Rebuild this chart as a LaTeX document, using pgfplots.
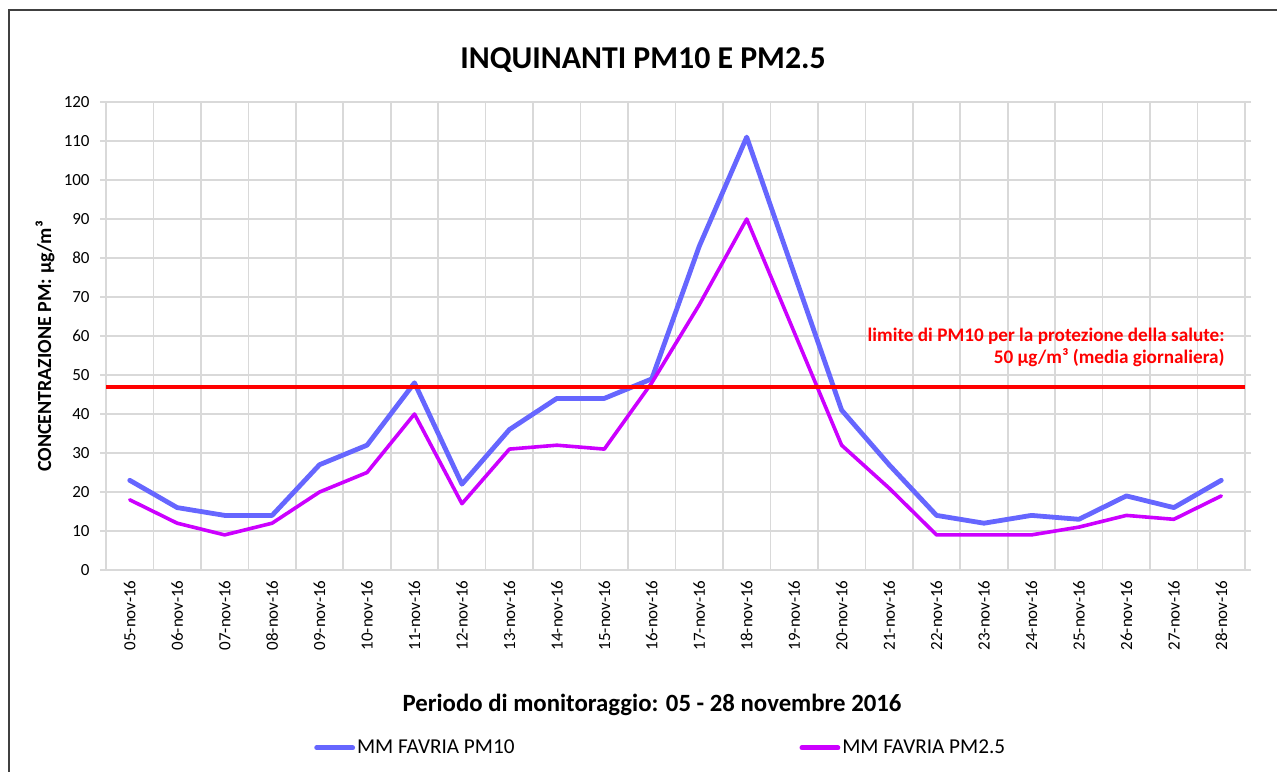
\documentclass[border=0pt]{standalone}
\usepackage{pgfplots}
\pgfplotsset{compat=1.18}
\usepackage{fontspec}
\setmainfont{Carlito}
\definecolor{gridgray}{HTML}{D9D9D9}
\definecolor{pmten}{HTML}{6666FF}
\definecolor{pmtwo}{HTML}{CC00FF}
\definecolor{framegray}{HTML}{404040}
\begin{document}
\begin{tikzpicture}
\useasboundingbox (0,0) rectangle (638.5pt,385.5pt);
\fill[white] (0,0) rectangle (638.5pt,385.5pt);
\draw[line width=1pt, framegray] (4.5pt,-20pt) |- (700pt,380.5pt);
\begin{axis}[
  at={(53pt,100.5pt)}, anchor=south west,
  width=569.5pt, height=234pt, scale only axis,
  xmin=-0.5, xmax=23.5, ymin=0, ymax=120,
  xtick={0,...,23},
  xticklabels={05-nov-16,06-nov-16,07-nov-16,08-nov-16,09-nov-16,10-nov-16,11-nov-16,12-nov-16,13-nov-16,14-nov-16,15-nov-16,16-nov-16,17-nov-16,18-nov-16,19-nov-16,20-nov-16,21-nov-16,22-nov-16,23-nov-16,24-nov-16,25-nov-16,26-nov-16,27-nov-16,28-nov-16},
  minor xtick={-0.5,0.5,...,23.5},
  ytick={0,10,...,120},
  xmajorgrids=false, xminorgrids=true, ymajorgrids=true,
  grid style={gridgray, line width=0.8pt},
  minor grid style={gridgray, line width=0.8pt},
  axis line style={gridgray, line width=0.8pt},
  tick style={gridgray, line width=0.8pt},
  tick align=outside,
  xtick style={draw=none},
  minor tick length=3pt,
  ytick style={gridgray},
  major tick length=3pt,
  x tick label style={rotate=90, anchor=east, inner sep=0pt, font=\fontsize{8.5}{10}\selectfont},
  xticklabel shift=2pt,
  y tick label style={inner sep=0pt, font=\fontsize{8.5}{10}\selectfont},
  yticklabel shift=5pt,
  /pgf/number format/assume math mode=true,
  legend columns=2,
  legend style={at={(rel axis cs:0.1825,-0.38)}, anchor=west, draw=none, fill=none,
    inner sep=0pt, font=\fontsize{10.6}{12}\selectfont,
    nodes={inner sep=1pt},
    /tikz/every even column/.append style={column sep=141.5pt}},
  legend cell align=left,
  legend image code/.code={\draw[#1, line width=2.4pt] (0pt,0pt) -- (18pt,0pt);},
  clip=false,
]
\addplot[pmten, line width=2.4pt, line join=round, line cap=round] coordinates {
(0,23) (1,16) (2,14) (3,14) (4,27) (5,32) (6,48) (7,22) (8,36) (9,44) (10,44) (11,49)
(12,83) (13,111) (14,76) (15,41) (16,27) (17,14) (18,12) (19,14) (20,13) (21,19) (22,16) (23,23)};
\addlegendentry{MM FAVRIA PM10}
\addplot[pmtwo, line width=1.8pt, line join=round, line cap=round] coordinates {
(0,18) (1,12) (2,9) (3,12) (4,20) (5,25) (6,40) (7,17) (8,31) (9,32) (10,31) (11,48)
(12,68) (13,90) (14,61) (15,32) (16,21) (17,9) (18,9) (19,9) (20,11) (21,14) (22,13) (23,19)};
\addlegendentry{MM FAVRIA PM2.5}
\addplot[red, line width=1.9pt, forget plot] coordinates {(-0.5,47) (23.5,47)};
\end{axis}
\node[font=\fontsize{15.9}{18}\selectfont\bfseries] at (321.5pt,355.5pt) {INQUINANTI PM10 E PM2.5};
\node[font=\fontsize{12.4}{14}\selectfont\bfseries] at (326pt,33pt) {Periodo di monitoraggio: 05 - 28 novembre 2016};
\node[font=\fontsize{10}{12}\selectfont\bfseries, rotate=90] at (22.5pt,212.25pt) {CONCENTRAZIONE PM: µg/m³};
\node[font=\fontsize{9.6}{11}\selectfont\bfseries, text=red, align=right, anchor=east, inner sep=0pt] at (612.5pt,211.75pt) {limite di PM10 per la protezione della salute:\\50 µg/m³ (media giornaliera)};
\end{tikzpicture}
\end{document}
